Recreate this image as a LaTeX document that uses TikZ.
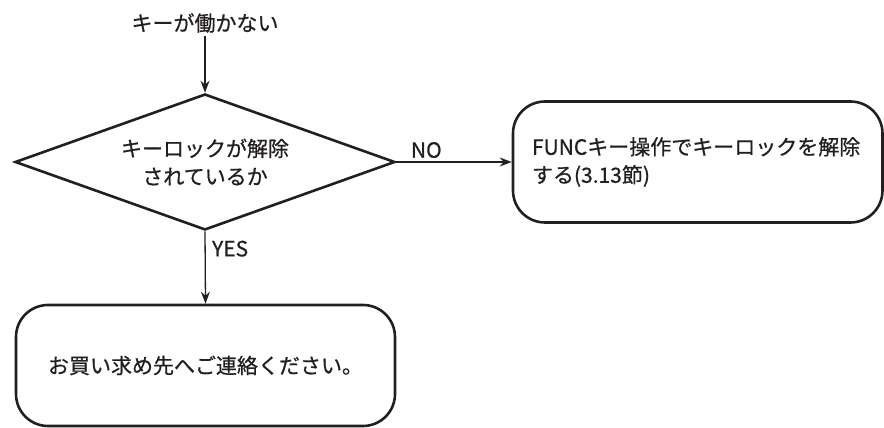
\documentclass[tikz,border=0pt]{standalone}
\usepackage{fontspec}
\setmainfont{Noto Sans CJK JP}[FakeBold=0.7]
\usepackage{xcolor}
\usetikzlibrary{shapes.geometric, arrows.meta, positioning}
\definecolor{ink}{HTML}{231F20}

\begin{document}
\begin{tikzpicture}[x=1pt, y=1pt, font=\fontsize{21}{28}\selectfont, color=ink,
   decision/.style={draw=ink, line width=2.6pt, diamond, aspect=2.8, minimum width=380pt, minimum height=136pt, inner sep=0pt, align=center},
   roundbox/.style={draw=ink, line width=2.6pt, rectangle, rounded corners=32pt},
   flow/.style={-{Stealth[length=12pt, width=9pt, inset=4pt]}, line width=1.3pt, draw=ink}]
\useasboundingbox (0,0) rectangle (884,428);

% Start and check
\node (start) at (205,405) {キーが働かない};
\node[decision] (check) at (205,266)
   {\fontsize{21}{29}\selectfont キーロックが解除\\されているか};

% Two outcomes
\node[roundbox, minimum height=121pt, text width=331.5pt, inner xsep=19pt, align=left] (unlock) at (697.75,266)
   {\fontsize{21}{33}\selectfont FUNCキー操作でキーロックを解除\\する(3.13節)};
\node[roundbox, minimum width=379pt, minimum height=121pt] (contact) at (205.5,62.5)
   {お買い求め先へご連絡ください。};

\draw[flow] (start) -- (check);
\draw[flow] (check.east) -- node[pos=0.26, above] {NO} (unlock.west);
\draw[flow] (check.south) -- node[pos=0.24, right=3pt] {YES} (contact.north);
\end{tikzpicture}
\end{document}
